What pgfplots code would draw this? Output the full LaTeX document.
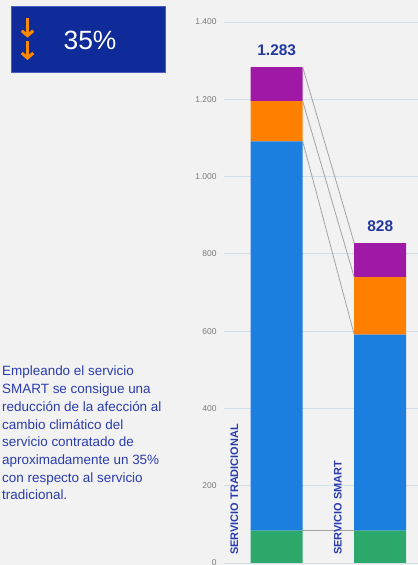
\documentclass[border=0pt]{standalone}
\usepackage{pgfplots}
\pgfplotsset{compat=1.18}
\usepackage{fontspec}
\setmainfont{Liberation Sans}
\usetikzlibrary{arrows.meta}
\definecolor{bg}{HTML}{F2F2F2}
\definecolor{boxblue}{HTML}{0F2A99}
\definecolor{boxedge}{HTML}{4A5EC0}
\definecolor{arrowor}{HTML}{FF8A00}
\definecolor{txtblue}{HTML}{2A3CAD}
\definecolor{lblblue}{HTML}{22389F}
\definecolor{cgreen}{HTML}{2DA86B}
\definecolor{cblue}{HTML}{1B7FDF}
\definecolor{corange}{HTML}{FF7F00}
\definecolor{cpurple}{HTML}{A019A6}
\definecolor{gridc}{HTML}{D3DDE8}
\definecolor{tickc}{HTML}{7A7A7A}
\definecolor{connc}{HTML}{A3A3A3}
\pgfplotsset{
  commonaxis/.style={
    at={(224bp,2bp)}, anchor=south west,
    scale only axis, width=194bp, height=541bp,
    xmin=-0.509, xmax=1.365, ymin=0, ymax=1400,
  }
}
\begin{document}
\begin{tikzpicture}
\path[use as bounding box, fill=bg] (0,0) rectangle (418bp,565bp);
% headline box
\fill[boxblue] (11.7bp,492.3bp) rectangle (165.7bp,559bp);
\draw[boxedge, line width=0.5bp] (11.7bp,492.3bp) rectangle (165.7bp,559bp);
\node[text=white, inner sep=0pt, font=\fontsize{26.5}{28}\selectfont] at (90bp,524.3bp) {35\%};
\draw[arrowor, line width=3bp, -{Straight Barb[length=5bp,width=11.5bp]}] (27.5bp,547bp) -- (27.5bp,527.3bp);
\draw[arrowor, line width=3bp, -{Straight Barb[length=5bp,width=11.5bp]}] (27.5bp,523.5bp) -- (27.5bp,505bp);
% paragraph
\begin{scope}[every node/.style={anchor=base west, inner sep=0pt, text=txtblue, font=\fontsize{13.5}{16}\selectfont}]
\node at (2bp,189bp) {Empleando el servicio};
\node at (2bp,171.3bp) {SMART se consigue una};
\node at (2bp,153.6bp) {reducción de la afección al};
\node at (2bp,135.9bp) {cambio climático del};
\node at (2bp,118.2bp) {servicio contratado de};
\node at (2bp,100.5bp) {aproximadamente un 35\%};
\node at (2bp,82.8bp) {con respecto al servicio};
\node at (2bp,65.1bp) {tradicional.};
\end{scope}
% bars
\begin{axis}[
  commonaxis,
  ybar stacked, bar width=52bp,
  xtick=\empty, ytick={0,200,...,1400},
  ymajorgrids, grid style={draw=gridc, line width=0.8bp},
  axis line style={draw=none}, major tick length=0pt,
  /pgf/number format/1000 sep={.},
  /pgf/number format/assume math mode=true,
  yticklabel style={font=\fontsize{8.5}{9}\selectfont, text=tickc, inner sep=0pt, xshift=-7.3bp},
]
\addplot[fill=cgreen, draw=none] coordinates {(0,84) (1,84)};
\addplot[fill=cblue, draw=none] coordinates {(0,1007) (1,507)};
\addplot[fill=corange, draw=none] coordinates {(0,104) (1,149)};
\addplot[fill=cpurple, draw=none] coordinates {(0,88) (1,88)};
\end{axis}
% series lines and labels
\begin{axis}[commonaxis, hide axis, clip=false]
\addplot[connc, line width=0.8bp, mark=none] coordinates {(0.2512,84) (0.7488,84)};
\addplot[connc, line width=0.8bp, mark=none] coordinates {(0.2512,1091) (0.7488,591)};
\addplot[connc, line width=0.8bp, mark=none] coordinates {(0.2512,1195) (0.7488,740)};
\addplot[connc, line width=0.8bp, mark=none] coordinates {(0.2512,1283) (0.7488,828)};
\node[anchor=base, text=lblblue, inner sep=0pt, font=\bfseries\fontsize{15.5}{17}\selectfont, yshift=11.8bp] at (axis cs:0,1283) {1.283};
\node[anchor=base, text=lblblue, inner sep=0pt, font=\bfseries\fontsize{15.5}{17}\selectfont, yshift=12bp] at (axis cs:1,828) {828};
\node[rotate=90, anchor=west, text=txtblue, inner sep=0pt, font=\bfseries\fontsize{11}{12}\selectfont] at (axis cs:-0.41,20.7) {SERVICIO TRADICIONAL};
\node[rotate=90, anchor=west, text=txtblue, inner sep=0pt, font=\bfseries\fontsize{11}{12}\selectfont] at (axis cs:0.59,20.7) {SERVICIO SMART};
\end{axis}
\end{tikzpicture}
\end{document}
